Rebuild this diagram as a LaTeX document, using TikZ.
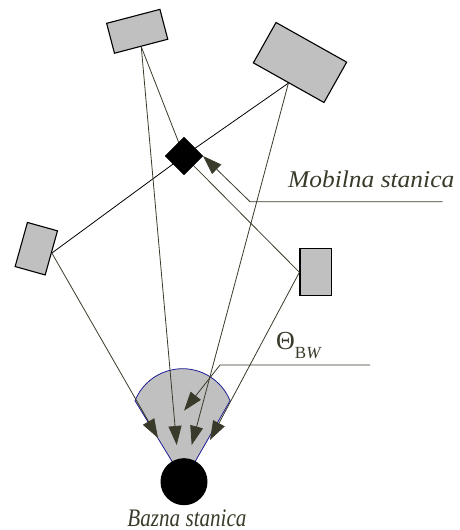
\documentclass[tikz,border=0pt]{standalone}
\usepackage{fontspec}
\setmainfont{Liberation Serif}[ItalicFont={Liberation Serif Italic}]
\usetikzlibrary{arrows.meta}
\definecolor{inkolive}{RGB}{58,58,42}
\definecolor{scatgray}{RGB}{192,192,192}
\definecolor{beamblue}{RGB}{30,30,150}
\begin{document}
\begin{tikzpicture}[x=1pt,y=1pt,
  scatterer/.style={draw=black, line width=1.1pt, fill=scatgray, inner sep=0pt, rectangle},
  conn/.style={draw=inkolive, line width=0.8pt},
  darkconn/.style={draw=black, line width=0.8pt},
  bigtip/.style={-{Triangle[length=19pt,width=13pt]}},
  lbl/.style={inner sep=0pt, text=inkolive, font=\fontsize{24}{28}\selectfont\itshape}
]
\useasboundingbox (0,0) rectangle (460,530);

% beam sector of the base station antenna
\path[fill=scatgray, draw=beamblue, line width=0.8pt]
  (184,49) -- (135,129.3) arc[start angle=157.9, end angle=22.1, radius=51.3] -- cycle;

% scatterers
\node[scatterer, minimum width=55.1pt, minimum height=30.9pt, rotate=14.7] (s1) at (137.2,498.7) {};
\node[scatterer, minimum width=81pt, minimum height=46.3pt, rotate=-29.3] (s2) at (300,467.5) {};
\node[scatterer, minimum width=31.2pt, minimum height=45.8pt, rotate=-15.6] (s3) at (36.3,281.3) {};
\node[scatterer, minimum width=31.7pt, minimum height=46.7pt] (s4) at (315.8,257.7) {};

% arrow ends in front of the base station
\coordinate (t1) at (176.7,85);
\coordinate (t2) at (191.7,85);
\coordinate (t3) at (158,92);
\coordinate (t4) at (210,90);
\coordinate (mc) at (184,374);

% paths mobile -> scatterers
\draw[conn] (s1.south) -- (mc);
\draw[conn] (s4.west) -- (mc);
\draw[darkconn] (s3.east) -- (mc) -- (s2.south);

% paths scatterers -> base station
\draw[conn, bigtip] (s1.south) -- (t1);
\draw[conn, bigtip] (s2.south) -- (t2);
\draw[conn, bigtip] (s3.east) -- (t3);
\draw[conn, bigtip] (s4.west) -- (t4);

% mobile station and base station
\node[fill=black, draw=black, minimum size=26.6pt, inner sep=0pt, rotate=45] (ms) at (mc) {};
\node[circle, fill=black, minimum size=47pt, inner sep=0pt] (bs) at (184,48.3) {};

% mobile station label
\coordinate (mk) at (250,328.3);
\coordinate (me) at (442.7,328.3);
\draw[conn, bigtip] (me) -- (mk) -- (ms.south east);
\node[lbl, anchor=base west] (mlab) at (288,342.7) {\scalebox{1.06}[1]{Mobilna stanica}};

% beamwidth label
\coordinate (tk) at (220,165);
\coordinate (te) at (370,165);
\coordinate (tt) at (184,119.3);
\draw[conn, bigtip] (te) -- (tk) -- (tt);
\node[inner sep=0pt, text=inkolive, anchor=base west] (tlab) at (276,180)
  {\fontsize{26}{28}\selectfont Θ\raisebox{-9pt}{\fontsize{17}{18}\selectfont B\textit{W}}};

% base station label
\node[lbl, anchor=base] (blab) at (187,4) {\scalebox{0.88}[1.05]{Bazna stanica}};
\end{tikzpicture}
\end{document}
